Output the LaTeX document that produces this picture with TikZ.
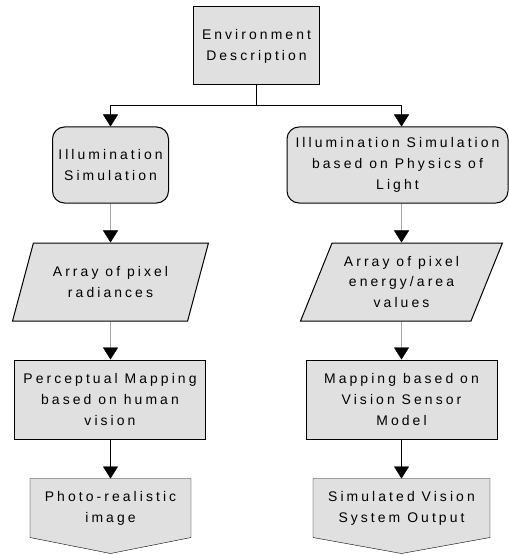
\documentclass[tikz,border=0pt]{standalone}
\usepackage{fontspec}
\setmainfont{Liberation Sans}[LetterSpace=22]
\usetikzlibrary{shapes.geometric,arrows.meta}
\definecolor{boxgray}{gray}{0.88}
\pgfdeclarelayer{bg}
\pgfsetlayers{bg,main}
\begin{document}
\begin{tikzpicture}[x=1bp,y=-1bp,line width=1bp,
    every node/.style={font=\fontsize{14}{21}\selectfont,align=center,inner sep=0pt},
    procbox/.style={draw,fill=boxgray,minimum width=#1,minimum height=79bp},
    simbox/.style={procbox=#1,rounded corners=12bp,minimum height=76bp},
    databox/.style={draw,fill=boxgray,trapezium,trapezium left angle=63.4,
        trapezium right angle=116.6,trapezium stretches=true,minimum width=#1,minimum height=78bp},
    outbox/.style={minimum width=#1,minimum height=58bp},
    arr/.style={-{Triangle[width=15bp,length=12bp]}}]
    \useasboundingbox (0,0) rectangle (509,555);
    % top
    \node (env) [procbox=126bp,minimum height=78bp] at (256.5,46) {Environment\\Description};
    \coordinate (split) at (256.5,105.5);
    % left column
    \node (ill1) [simbox=116bp] at (110.5,165) {Illumination\\Simulation};
    \node (rad) [databox=196bp] at (110.5,282) {Array of pixel\\radiances};
    \node (percep) [procbox=191bp] at (110,399.5) {Perceptual Mapping\\based on human\\vision};
    \node (photo) [outbox=160bp] at (110.5,508) {Photo-realistic\\image};
    % right column
    \node (ill2) [simbox=221bp] at (397.5,165) {Illumination Simulation\\based on Physics of\\Light};
    \node (energy) [databox=202bp] at (401.5,282) {Array of pixel\\energy/area\\values};
    \node (sensor) [procbox=191bp] at (401.5,399.5) {Mapping based on\\Vision Sensor\\Model};
    \node (simout) [outbox=176bp] at (401.5,508) {Simulated Vision\\System Output};
    \begin{pgfonlayer}{bg}
        \foreach \n in {photo,simout}
            \draw[fill=boxgray] (\n.north west) -- (\n.north east) -- (\n.south east)
                -- ([yshift=-16bp]\n.south) -- (\n.south west) -- cycle;
    \end{pgfonlayer}
    % connectors
    \draw (env) -- (split);
    \draw[arr] (split) -| (ill1.north);
    \draw[arr] (split) -| ([xshift=4bp]ill2.north);
    \draw[arr] (ill1) -- (rad);
    \draw[arr] (rad) -- (rad |- percep.north);
    \draw[arr] (percep.south -| photo) -- (photo);
    \draw[arr] (energy |- ill2.south) -- (energy);
    \draw[arr] (energy) -- (sensor);
    \draw[arr] (sensor) -- (simout);
\end{tikzpicture}
\end{document}
